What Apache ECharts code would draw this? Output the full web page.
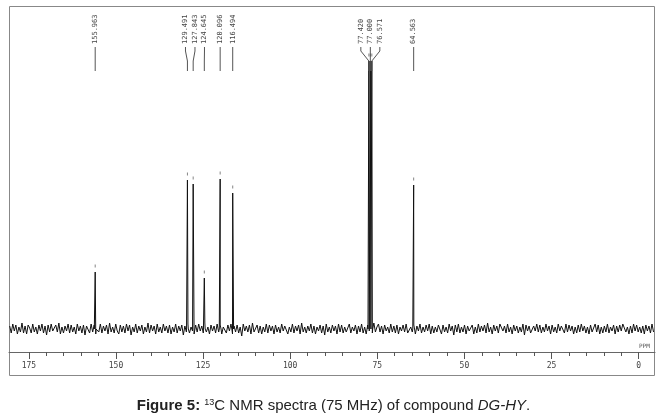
<!DOCTYPE html>
<html>
<head>
<meta charset="utf-8">
<script src="https://cdn.jsdelivr.net/npm/echarts@6/dist/echarts.min.js"></script>
<style>
  html, body { margin: 0; padding: 0; background: #fff; }
  #chart { width: 667px; height: 420px; }
</style>
</head>
<body>
<div id="chart"></div>
<script>
// peak positions (ppm) and heights (arbitrary units)
const peakPpm = [155.963, 129.491, 127.843, 124.645, 120.096, 116.494, 77.420, 77.000, 76.571, 64.563];
const peakHeight = [57, 149, 145, 51, 150, 136, 268, 268, 268, 144];
const peakLabels = ["155.963", "129.491", "127.843", "124.645", "120.096", "116.494", "77.420", "77.000", "76.571", "64.563"];

// baseline noise (left to right)
const noiseStart = 180.5;
const noiseStep = 0.441;
const noise = [
  3,-4,5,-2,4,-5,2,-3,6,-4,3,-5,4,1,-4,5,-3,2,-5,4,
  -2,5,-4,3,-6,4,-3,5,-2,-4,4,-3,6,-5,2,-4,3,-2,5,-4,
  4,-3,2,-5,5,-2,3,-4,4,-6,3,1,-4,5,-3,4,-5,2,-3,5,
  -4,3,-2,4,-5,6,-3,2,-4,5,-2,-5,4,-3,3,-4,5,-2,4,-6,
  2,-3,5,-4,3,-2,4,-5,2,-3,6,-4,4,-2,3,-5,5,-3,2,-4,
  5,-2,3,-4,4,-5,2,-3,5,-4,3,-2,4,-6,3,-3,5,-4,2,-2,
  -5,4,-3,5,-2,3,-4,6,-3,2,-5,4,-2,3,-4,5,-3,4,-5,2,
  3,-4,4,-2,5,-5,3,-3,4,-4,2,-7,5,-2,3,-3,4,-5,6,-3,
  -2,4,-4,3,-5,2,-3,5,-4,4,-2,3,-5,4,-3,2,-4,5,-2,3,
  4,-5,2,-3,5,-4,3,-2,4,-5,6,-3,2,-4,3,-2,5,-4,3,-5,
  2,-2,4,-4,3,-6,5,-3,2,-4,4,-2,3,-5,5,-3,4,-4,2,-3,
  -3,5,-4,2,-2,4,-5,3,-3,5,-4,2,-5,4,-2,3,-4,6,-3,2,
  5,-3,3,-5,4,-2,2,-4,5,-3,3,-4,4,-5,2,-2,4,-3,5,-4,
  -4,2,-3,4,-5,3,-2,5,-4,2,-3,4,-2,5,-5,3,-4,2,-3,4,
  3,-5,4,-3,2,-4,5,-2,3,-6,4,-3,5,-4,2,-3,4,-5,3,-2,
  -3,4,-5,2,-4,5,-3,3,-2,4,-4,6,-3,2,-5,4,-2,3,-4,5,
  4,-2,3,-4,5,-3,2,-5,4,-2,3,-4,2,-3,5,-6,4,-2,3,-4,
  -5,3,-2,5,-3,4,-4,2,-3,5,-2,3,-5,4,-3,2,-4,5,-2,3,
  2,-4,5,-3,4,-2,3,-5,2,-4,4,-3,5,-2,3,-4,2,-5,4,-3,
  -2,5,-3,4,-5,2,-4,3,-3,5,-4,2,-2,4,-5,3,-3,4,-2,5,
  4,-3,2,-5,3,-4,5,-2,4,-3,2,-4,3,-5,4,-2,3,-4,5,-3
];

// axis ticks
const majorTicks = [175, 150, 125, 100, 75, 50, 25, 0];
const minorTicks = [170, 165, 160, 155, 145, 140, 135, 130, 120, 115, 110, 105,
  95, 90, 85, 80, 70, 65, 60, 55, 45, 40, 35, 30, 20, 15, 10, 5];

// build the trace: noise points plus narrow spikes at each peak
let trace = [];
for (let i = 0; i < noise.length; i++) {
  trace.push([noiseStart - i * noiseStep, noise[i]]);
}
for (let i = 0; i < peakPpm.length; i++) {
  trace.push([peakPpm[i] + 0.25, 0]);
  trace.push([peakPpm[i], peakHeight[i]]);
  trace.push([peakPpm[i] - 0.25, 0]);
}
trace.sort((a, b) => b[0] - a[0]);

// spread the peak labels so they don't overlap (pixel space)
function labelSpread(px, gap) {
  let groups = [];
  for (let i = 0; i < px.length; i++) {
    groups.push({ idx: [i], center: px[i] });
    while (groups.length > 1) {
      let g = groups[groups.length - 1];
      let p = groups[groups.length - 2];
      let pEnd = p.center + (p.idx.length - 1) * gap / 2;
      let gStart = g.center - (g.idx.length - 1) * gap / 2;
      if (gStart - pEnd >= gap) break;
      let all = p.idx.concat(g.idx);
      let mean = all.reduce((s, k) => s + px[k], 0) / all.length;
      groups.splice(groups.length - 2, 2, { idx: all, center: mean });
    }
  }
  let out = [];
  groups.forEach(g => {
    g.idx.forEach((k, j) => {
      out[k] = g.center + (j - (g.idx.length - 1) / 2) * gap;
    });
  });
  return out;
}

let myChart = echarts.init(document.getElementById("chart"));

let option = {
  animation: false,
  backgroundColor: "#fff",
  title: {
    text: "{b|Figure 5:} {s|13}C NMR spectra (75 MHz) of compound {i|DG-HY}.",
    left: "center",
    top: 393,
    textStyle: {
      fontFamily: "Liberation Sans",
      fontSize: 15,
      fontWeight: "normal",
      color: "#222",
      rich: {
        b: { fontFamily: "Liberation Sans", fontSize: 15, fontWeight: "bold", color: "#222" },
        s: { fontFamily: "Liberation Sans", fontSize: 9, color: "#222", verticalAlign: "top", padding: [0, 0, 7, 0] },
        i: { fontFamily: "Liberation Sans", fontSize: 15, fontStyle: "italic", color: "#222" }
      }
    }
  },
  grid: {
    left: 9,
    right: 12,
    top: 6,
    bottom: 68
  },
  graphic: [
    {
      type: "rect",
      shape: { x: 9.5, y: 6.5, width: 645, height: 369 },
      style: { fill: null, stroke: "#888", lineWidth: 1 },
      silent: true,
      z: 0
    }
  ],
  xAxis: [
    {
      type: "value",
      inverse: true,
      min: -4.7,
      max: 180.7,
      name: "PPM",
      nameLocation: "start",
      nameGap: -16,
      nameTextStyle: {
        fontFamily: "DejaVu Sans Mono",
        fontSize: 6,
        color: "#555",
        verticalAlign: "bottom",
        padding: [0, 0, 3, 0]
      },
      axisLine: { show: true, onZero: false, lineStyle: { color: "#666", width: 1 } },
      axisTick: { show: true, customValues: majorTicks, length: 7, lineStyle: { color: "#555" } },
      axisLabel: {
        customValues: majorTicks,
        margin: 10,
        fontFamily: "DejaVu Sans Mono",
        fontSize: 8,
        color: "#444"
      },
      splitLine: { show: false }
    },
    {
      type: "value",
      inverse: true,
      position: "bottom",
      min: -4.7,
      max: 180.7,
      axisLine: { show: false, onZero: false },
      axisTick: { show: true, customValues: minorTicks, length: 4, lineStyle: { color: "#555" } },
      axisLabel: { show: false },
      splitLine: { show: false }
    }
  ],
  yAxis: {
    type: "value",
    min: -23,
    max: 323,
    show: false
  },
  series: [
    {
      type: "line",
      data: trace,
      showSymbol: false,
      lineStyle: { color: "#111", width: 1 },
      z: 3
    },
    {
      type: "scatter",
      data: peakPpm.map((p, i) => [p, peakHeight[i]]),
      symbol: "rect",
      symbolSize: [1, 3],
      symbolOffset: [0, -6],
      itemStyle: { color: "#666" },
      z: 3
    },
    {
      type: "custom",
      data: peakPpm.map((p, i) => [p, peakHeight[i]]),
      clip: false,
      renderItem: function (params, api) {
        let px = peakPpm.map(p => api.coord([p, 0])[0]);
        let lx = labelSpread(px, 9.5);
        let i = params.dataIndex;
        let x0 = px[i];
        let x1 = lx[i];
        return {
          type: "group",
          children: [
            {
              type: "text",
              x: x1,
              y: 44,
              rotation: Math.PI / 2,
              style: {
                text: peakLabels[i],
                fontFamily: "DejaVu Sans Mono",
                fontSize: 7,
                fill: "#444",
                align: "left",
                verticalAlign: "middle"
              }
            },
            {
              type: "polyline",
              shape: { points: [[x1, 47], [x1, 51], [x0, 61], [x0, 71]] },
              style: { stroke: "#555", lineWidth: 1, fill: null }
            }
          ]
        };
      },
      z: 4
    }
  ]
};

myChart.setOption(option);
</script>
</body>
</html>
